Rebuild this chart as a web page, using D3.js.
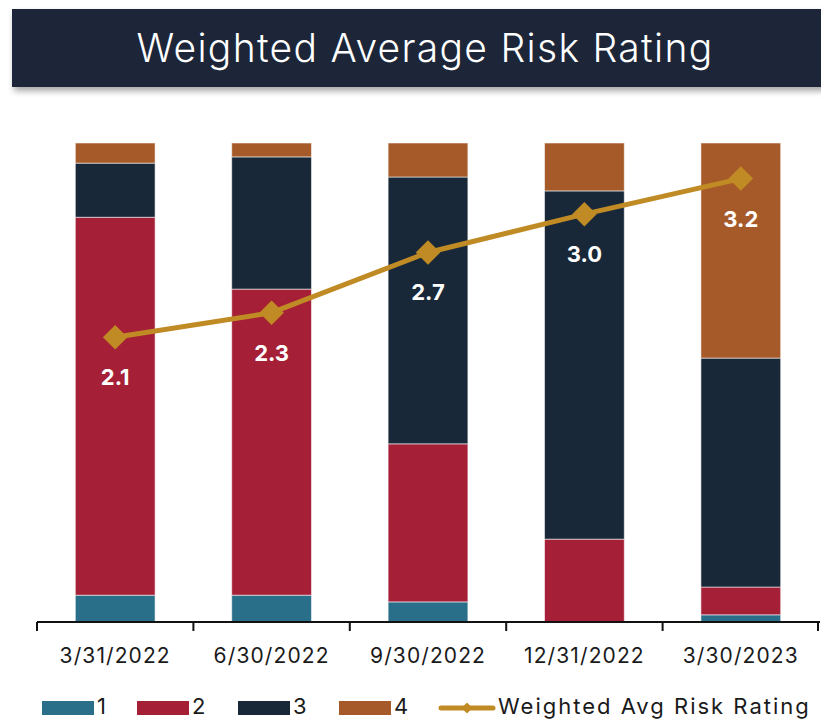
<!DOCTYPE html>
<html>
<head>
<meta charset="utf-8">
<script src="https://cdn.jsdelivr.net/npm/d3@7"></script>
<style>
    body { margin: 0; background: #fff; }
    svg { display: block; font-family: "Inter", "Lato", "Noto Sans", sans-serif; }
</style>
</head>
<body>
<div id="chart"></div>
<script>
// 数据
const quarters = ['3/31/2022', '6/30/2022', '9/30/2022', '12/31/2022', '3/30/2023'];
const rating1 = [5.6, 5.6, 4.2, 0.0, 1.5];
const rating2 = [78.9, 63.9, 33.0, 17.3, 5.8];
const rating3 = [11.3, 27.6, 55.7, 72.7, 47.8];
const rating4 = [4.2, 2.9, 7.1, 10.0, 44.9];
const weightedAvg = [2.08, 2.26, 2.70, 2.98, 3.24];
const ratingKeys = ['1', '2', '3', '4'];

const colors = {
    '1': '#2a6f8a',
    '2': '#a51f37',
    '3': '#182838',
    '4': '#a65a29'
};
const lineColor = '#c08b24';

const width = 821, height = 719;
const baseY = 622, topY = 143;

const svg = d3.select('#chart').append('svg')
    .attr('width', width)
    .attr('height', height);

// 阴影
const defs = svg.append('defs');
const shadow = defs.append('filter')
    .attr('id', 'shadow')
    .attr('x', '-5%').attr('y', '-20%')
    .attr('width', '110%').attr('height', '160%');
shadow.append('feDropShadow')
    .attr('dx', 2).attr('dy', 4)
    .attr('stdDeviation', 3)
    .attr('flood-color', '#000')
    .attr('flood-opacity', 0.35);

// 标题栏
svg.append('rect')
    .attr('x', 12).attr('y', 9)
    .attr('width', 830).attr('height', 78)
    .attr('fill', '#1a2838')
    .attr('filter', 'url(#shadow)');

svg.append('text')
    .attr('x', 425).attr('y', 62)
    .attr('text-anchor', 'middle')
    .attr('font-size', 39)
    .attr('font-weight', 300)
    .attr('letter-spacing', 1.3)
    .attr('fill', '#fff')
    .text('Weighted Average Risk Rating');

// 比例尺
const x = d3.scaleBand()
    .domain(quarters)
    .range([37, 819])
    .paddingInner(0.49)
    .paddingOuter(0.245);

const y = d3.scaleLinear().domain([0, 100]).range([baseY, topY]);
const y2 = d3.scaleLinear().domain([0, 3.5]).range([baseY, topY]);

const table = quarters.map((q, i) => ({
    quarter: q,
    '1': rating1[i], '2': rating2[i], '3': rating3[i], '4': rating4[i]
}));

const stacked = d3.stack().keys(ratingKeys)(table);

// 堆叠柱
svg.append('g')
    .selectAll('g')
    .data(stacked)
    .enter()
    .append('g')
    .attr('fill', d => colors[d.key])
    .selectAll('rect')
    .data(d => d)
    .enter()
    .append('rect')
    .attr('x', d => x(d.data.quarter))
    .attr('y', d => y(d[1]))
    .attr('width', x.bandwidth())
    .attr('height', d => Math.max(0, y(d[0]) - y(d[1])))
    .attr('stroke', 'rgba(255,255,255,0.55)')
    .attr('stroke-width', d => (d[1] - d[0]) > 0 ? 1 : 0);

// X轴
const axis = svg.append('g');
axis.append('line')
    .attr('x1', 37).attr('x2', 820)
    .attr('y1', baseY).attr('y2', baseY)
    .attr('stroke', '#111')
    .attr('stroke-width', 2);

const step = x.step();
axis.selectAll('line.tick')
    .data(d3.range(quarters.length + 1))
    .enter()
    .append('line')
    .attr('class', 'tick')
    .attr('x1', i => 37 + i * step + (i === quarters.length ? -1 : 0))
    .attr('x2', i => 37 + i * step + (i === quarters.length ? -1 : 0))
    .attr('y1', baseY)
    .attr('y2', baseY + 9)
    .attr('stroke', '#111')
    .attr('stroke-width', 2);

axis.selectAll('text')
    .data(quarters)
    .enter()
    .append('text')
    .attr('x', d => x(d) + x.bandwidth() / 2)
    .attr('y', 663)
    .attr('text-anchor', 'middle')
    .attr('font-size', 21)
    .attr('letter-spacing', 1.1)
    .attr('fill', '#1a1a1a')
    .text(d => d);

// 加权平均线
const cx = (d, i) => x(quarters[i]) + x.bandwidth() / 2;

const line = d3.line()
    .x((d, i) => cx(d, i))
    .y(d => y2(d));

svg.append('path')
    .datum(weightedAvg)
    .attr('d', line)
    .attr('fill', 'none')
    .attr('stroke', lineColor)
    .attr('stroke-width', 5)
    .attr('stroke-linejoin', 'round');

const diamond = d3.symbol().type(d3.symbolSquare).size(300);

svg.append('g')
    .selectAll('path')
    .data(weightedAvg)
    .enter()
    .append('path')
    .attr('d', diamond)
    .attr('transform', (d, i) => `translate(${cx(d, i)}, ${y2(d)}) rotate(45)`)
    .attr('fill', lineColor);

svg.append('g')
    .selectAll('text')
    .data(weightedAvg)
    .enter()
    .append('text')
    .attr('x', (d, i) => cx(d, i))
    .attr('y', d => y2(d) + 48)
    .attr('text-anchor', 'middle')
    .attr('font-size', 22)
    .attr('font-weight', 700)
    .attr('fill', '#fff')
    .text(d => d3.format('.1f')(d));

// 图例
const legend = svg.append('g');
const legendItems = [
    { key: '1', x: 42 },
    { key: '2', x: 137 },
    { key: '3', x: 238 },
    { key: '4', x: 339 }
];

legend.selectAll('rect')
    .data(legendItems)
    .enter()
    .append('rect')
    .attr('x', d => d.x)
    .attr('y', 701)
    .attr('width', 52)
    .attr('height', 14)
    .attr('fill', d => colors[d.key]);

legend.selectAll('text.key')
    .data(legendItems)
    .enter()
    .append('text')
    .attr('class', 'key')
    .attr('x', d => d.x + 55)
    .attr('y', 714)
    .attr('font-size', 22)
    .attr('fill', '#1a1a1a')
    .text(d => d.key);

legend.append('line')
    .attr('x1', 441).attr('x2', 493)
    .attr('y1', 708).attr('y2', 708)
    .attr('stroke', lineColor)
    .attr('stroke-width', 5)
    .attr('stroke-linecap', 'round');

legend.append('path')
    .attr('d', d3.symbol().type(d3.symbolSquare).size(60))
    .attr('transform', 'translate(467, 708) rotate(45)')
    .attr('fill', lineColor);

legend.append('text')
    .attr('x', 498)
    .attr('y', 714)
    .attr('font-size', 22)
    .attr('letter-spacing', 2)
    .attr('fill', '#1a1a1a')
    .text('Weighted Avg Risk Rating');
</script>
</body>
</html>
